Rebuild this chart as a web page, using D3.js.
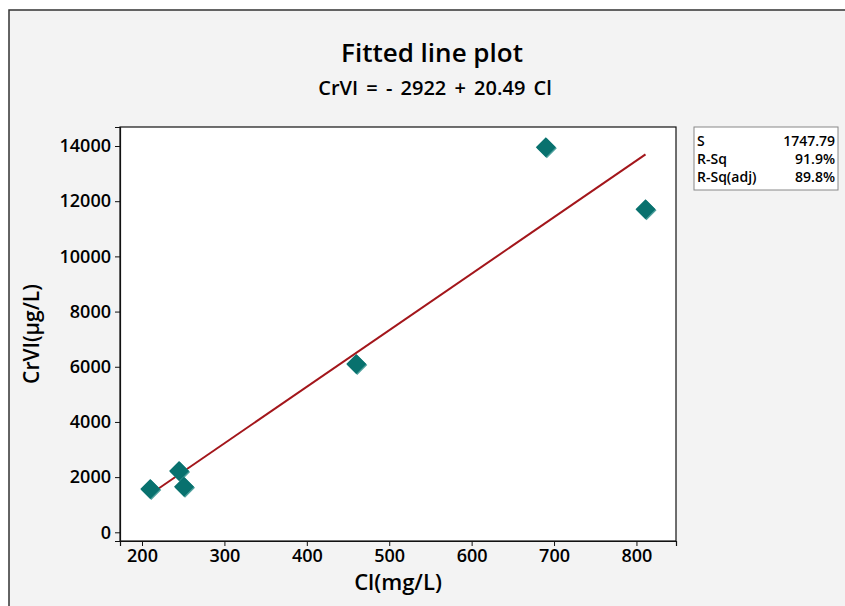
<!DOCTYPE html>
<html>
<head>
<meta charset="utf-8">
<script src="https://cdn.jsdelivr.net/npm/d3@7"></script>
<style>
  html, body { margin: 0; padding: 0; background: #ffffff; }
  svg { display: block; }
  text { font-family: "Open Sans", "Noto Sans", sans-serif; fill: #000; }
</style>
</head>
<body>
<svg id="chart" width="845" height="606"></svg>
<script>
// ---- data ----
const clValues   = [210, 245, 251, 460, 690, 811];
const crviValues = [1569, 2222, 1653, 6100, 13954, 11707];
const fitIntercept = -2922;
const fitSlope = 20.49;
const xTicks = [200, 300, 400, 500, 600, 700, 800];
const yTicks = [0, 2000, 4000, 6000, 8000, 10000, 12000, 14000];
const statLabels = ["S", "R-Sq", "R-Sq(adj)"];
const statValues = ["1747.79", "91.9%", "89.8%"];
const titleText = "Fitted line plot";
const subtitleText = "CrVI = - 2922 + 20.49 Cl";
const xLabel = "Cl(mg/L)";
const yLabel = "CrVI(µg/L)";

const svg = d3.select("#chart");
const W = 845, H = 606;

// frame background
svg.append("rect").attr("x", 9).attr("y", 10).attr("width", W + 20).attr("height", H + 20)
  .attr("fill", "#f3f3f3").attr("stroke", "#333").attr("stroke-width", 1.5);

const plot = { left: 120, top: 127, right: 676, bottom: 541 };

const x = d3.scaleLinear().domain([173.3, 848]).range([plot.left, plot.right]);
const y = d3.scaleLinear().domain([-315, 14689]).range([plot.bottom, plot.top]);

// plot area
svg.append("rect").attr("x", plot.left).attr("y", plot.top)
  .attr("width", plot.right - plot.left).attr("height", plot.bottom - plot.top)
  .attr("fill", "#ffffff").attr("stroke", "#111").attr("stroke-width", 1.2);

// axes
const xAxis = svg.append("g").attr("transform", `translate(0,${plot.bottom})`)
  .call(d3.axisBottom(x).tickValues(xTicks).tickSize(5).tickPadding(3).tickFormat(d3.format("d")));
const yAxis = svg.append("g").attr("transform", `translate(${plot.left},0)`)
  .call(d3.axisLeft(y).tickValues(yTicks).tickSize(5).tickPadding(4).tickFormat(d3.format("d")));
[xAxis, yAxis].forEach(g => {
  g.select(".domain").attr("stroke", "#111").attr("stroke-width", 1.2);
  g.selectAll(".tick line").attr("stroke", "#111");
  g.selectAll(".tick text").attr("font-family", '"Open Sans", sans-serif')
    .attr("font-size", 18).attr("font-weight", 600).attr("fill", "#000");
});

// fitted line
const xmin = d3.min(clValues), xmax = d3.max(clValues);
const lineData = [xmin, xmax].map(v => [v, fitIntercept + fitSlope * v]);
svg.append("path").datum(lineData)
  .attr("d", d3.line().x(d => x(d[0])).y(d => y(d[1])))
  .attr("fill", "none").attr("stroke", "#a3161b").attr("stroke-width", 2);

// points (diamonds)
const r = 10;
const diamond = `M0,${-r}L${r},0L0,${r}L${-r},0Z`;
const pts = clValues.map((v, i) => [v, crviValues[i]]);
svg.append("g").selectAll("path").data(pts).join("path")
  .attr("d", diamond)
  .attr("transform", d => `translate(${x(d[0]) + 1},${y(d[1]) + 1})`)
  .attr("fill", "#4c9f9c");
svg.append("g").selectAll("path").data(pts).join("path")
  .attr("d", diamond)
  .attr("transform", d => `translate(${x(d[0])},${y(d[1])})`)
  .attr("fill", "#08716e");

// titles
svg.append("text").attr("x", 432).attr("y", 62).attr("text-anchor", "middle")
  .attr("font-size", 26).attr("font-weight", 600).text(titleText);
svg.append("text").attr("x", 435).attr("y", 95).attr("text-anchor", "middle")
  .attr("font-size", 20).attr("font-weight", 600).attr("word-spacing", 3).text(subtitleText);

// axis labels
svg.append("text").attr("x", (plot.left + plot.right) / 2).attr("y", 590)
  .attr("text-anchor", "middle").attr("font-size", 22).attr("font-weight", 600).text(xLabel);
svg.append("text").attr("transform", `translate(39,${(plot.top + plot.bottom) / 2}) rotate(-90)`)
  .attr("text-anchor", "middle").attr("font-size", 21).attr("font-weight", 600).text(yLabel);

// stats box
svg.append("rect").attr("x", 694).attr("y", 127).attr("width", 144).attr("height", 63)
  .attr("fill", "#fff").attr("stroke", "#888").attr("stroke-width", 1);
statLabels.forEach((s, i) => {
  svg.append("text").attr("x", 697).attr("y", 146 + i * 18).attr("font-size", 14)
    .attr("font-weight", 600).text(s);
  svg.append("text").attr("x", 835).attr("y", 146 + i * 18).attr("font-size", 14)
    .attr("font-weight", 600).attr("text-anchor", "end").text(statValues[i]);
});
</script>
</body>
</html>
